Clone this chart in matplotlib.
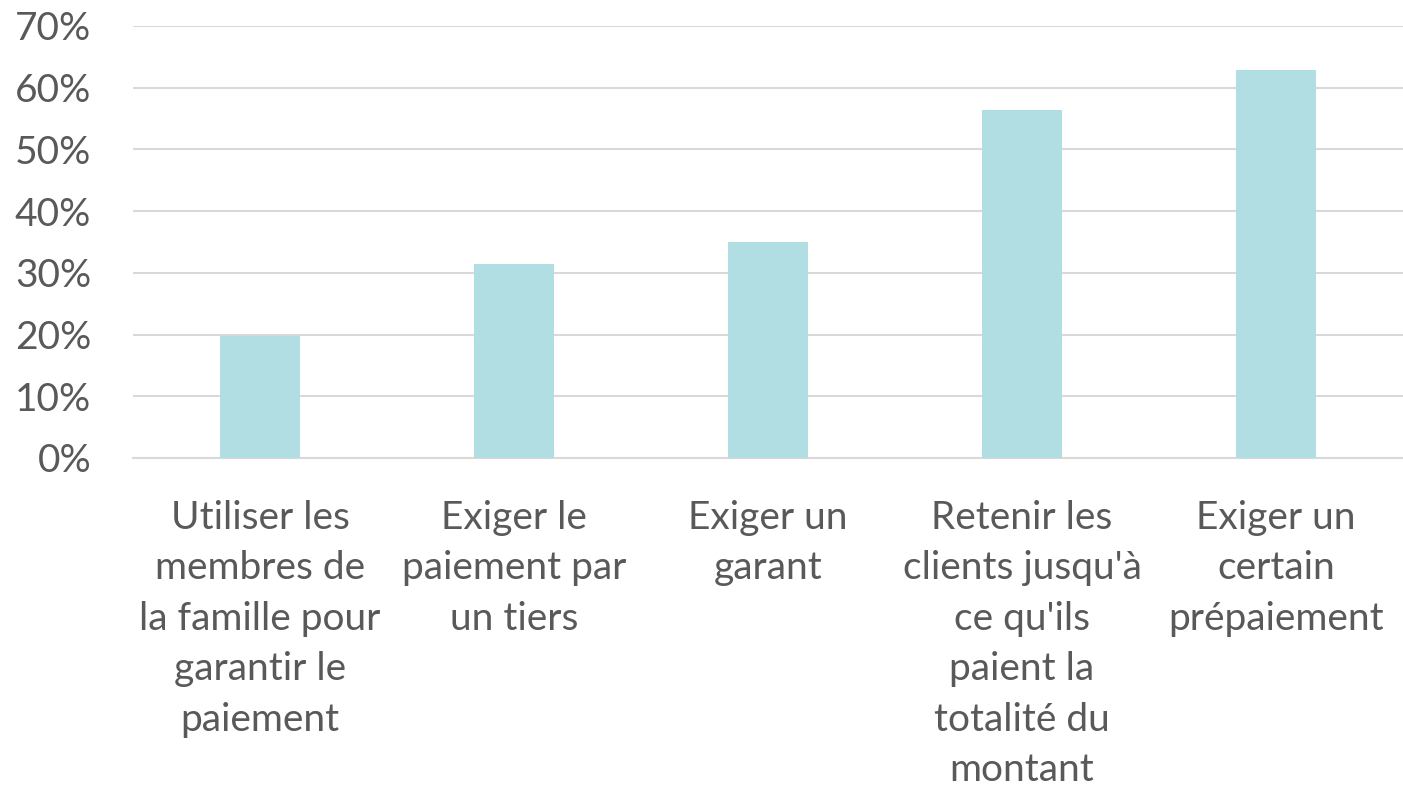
import matplotlib.pyplot as plt
from matplotlib.ticker import PercentFormatter

# -------------------- DATA --------------------
categories = [
    "Utiliser les\nmembres de\nla famille pour\ngarantir le\npaiement",
    "Exiger le\npaiement par\nun tiers",
    "Exiger un\ngarant",
    "Retenir les\nclients jusqu'à\nce qu'ils\npaient la\ntotalité du\nmontant",
    "Exiger un\ncertain\nprépaiement",
]
values = [19.8, 31.4, 35.0, 56.4, 62.9]
yticks = [0, 10, 20, 30, 40, 50, 60, 70]

BAR_COLOR = "#B0DEE3"
TEXT_COLOR = "#595959"
GRID_COLOR = "#D9D9D9"

plt.rcParams['font.family'] = ['Lato', 'DejaVu Sans']

W, H = 1403, 788
fig = plt.figure(figsize=(W / 100, H / 100), dpi=100)
ax = fig.add_axes([133 / W, 1 - 458 / H, 1 - 133 / W, (458 - 26) / H])

x = range(len(categories))
ax.bar(x, values, width=0.315, color=BAR_COLOR, zorder=3)

ax.set_xlim(-0.5, len(categories) - 0.5)
ax.set_ylim(0, 70)
ax.set_yticks(yticks)
ax.yaxis.set_major_formatter(PercentFormatter(decimals=0))
ax.set_xticks(list(x))
ax.set_xticklabels(categories, linespacing=1.5)

ax.grid(axis='y', color=GRID_COLOR, linewidth=1.5, zorder=0)
for s in ['top', 'right', 'left']:
    ax.spines[s].set_visible(False)
ax.spines['bottom'].set_color(GRID_COLOR)
ax.spines['bottom'].set_linewidth(1.5)

ax.tick_params(axis='both', length=0, labelsize=28, colors=TEXT_COLOR)
ax.tick_params(axis='x', pad=30)
ax.tick_params(axis='y', pad=30)

fig.savefig("out.png", dpi=100, facecolor="white")
